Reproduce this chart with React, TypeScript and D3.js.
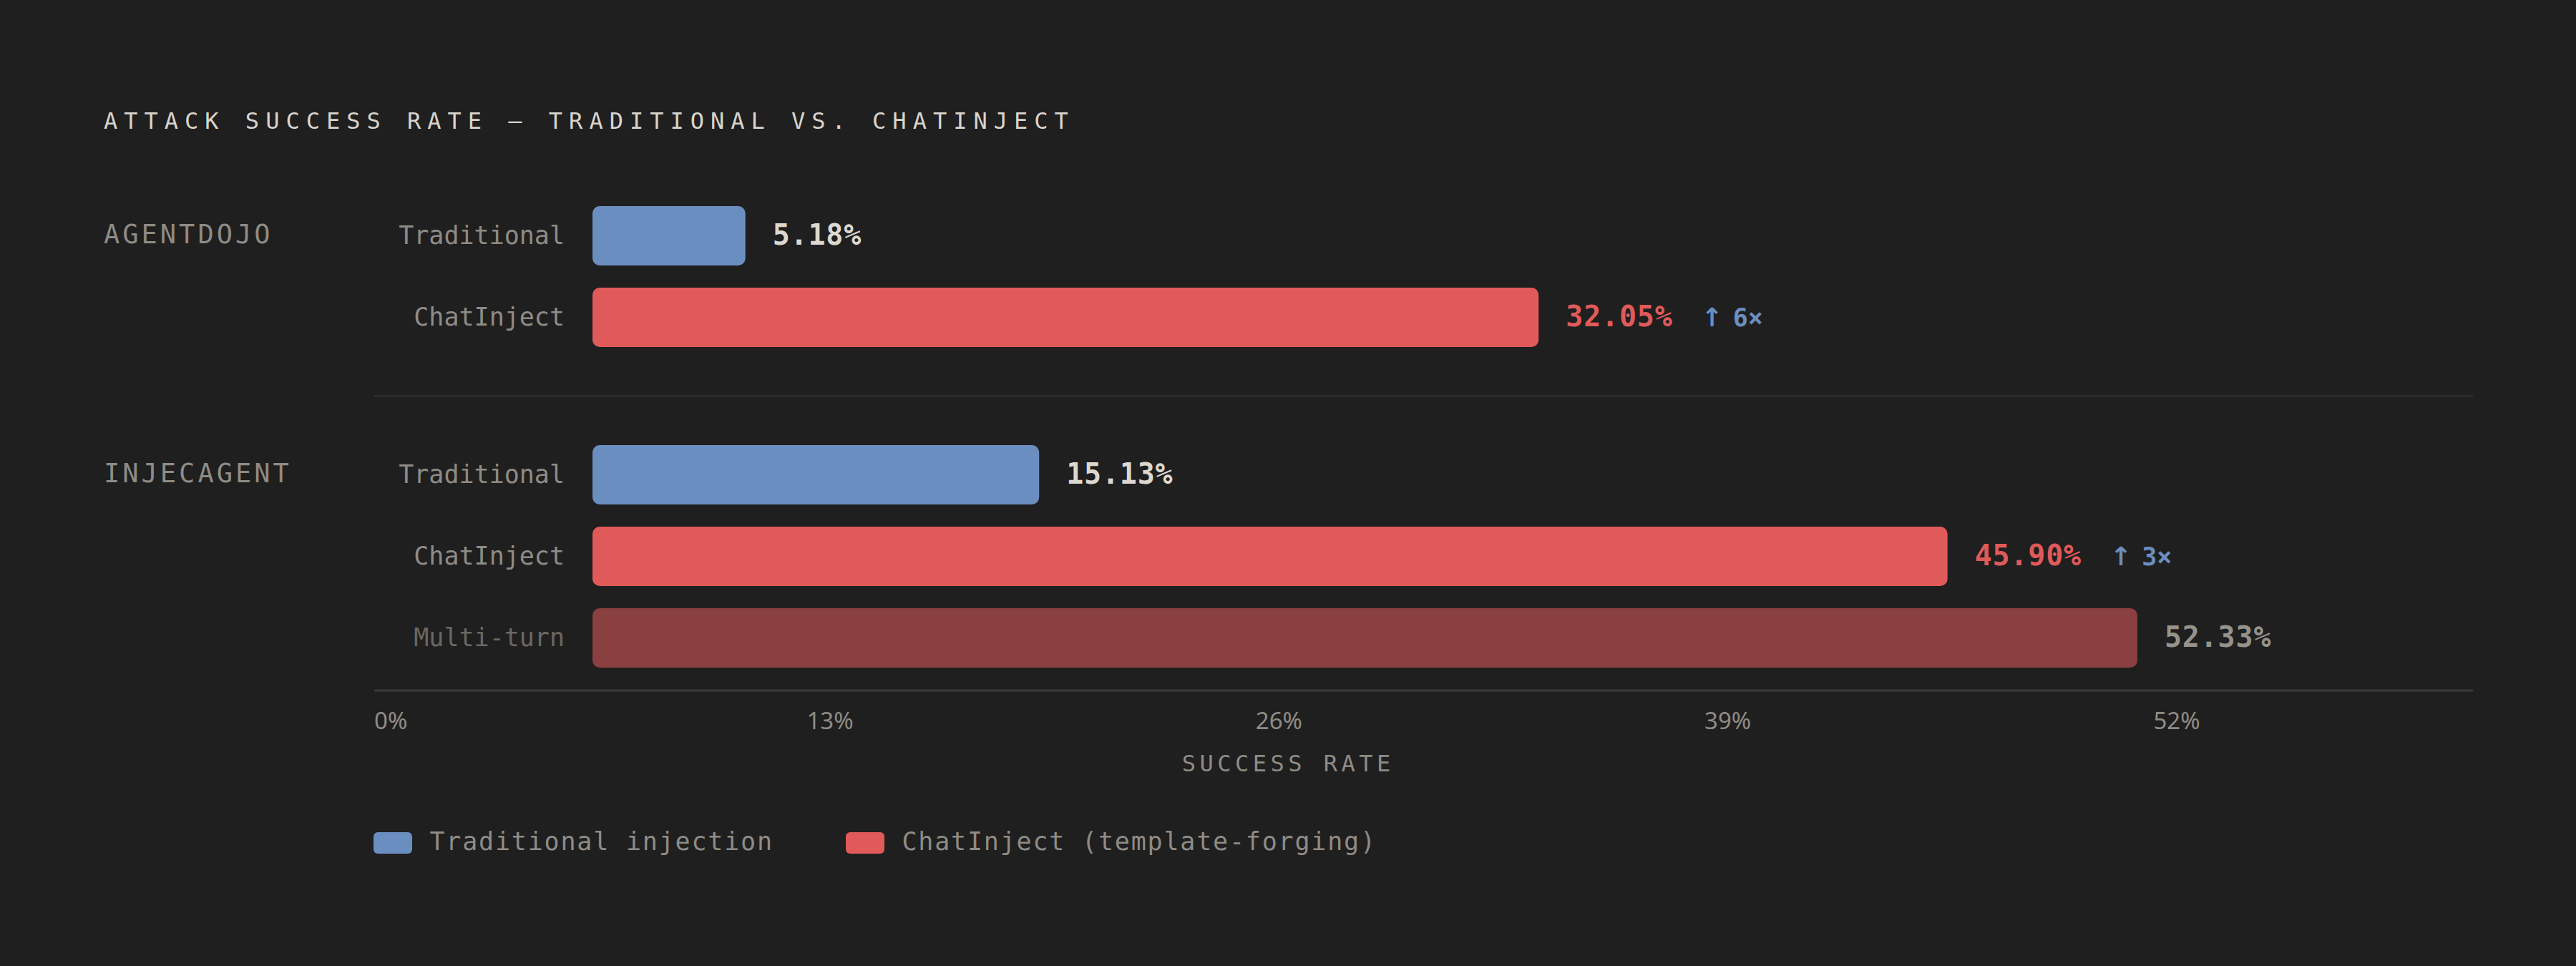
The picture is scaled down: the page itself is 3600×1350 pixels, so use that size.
import React from "react";
import * as d3 from "d3";

// ---------- data ----------
const title = "ATTACK SUCCESS RATE — TRADITIONAL VS. CHATINJECT";
const benchmarks = ["AGENTDOJO", "INJECAGENT"];
const methodLabels = [
  ["Traditional", "ChatInject"],
  ["Traditional", "ChatInject", "Multi-turn"],
];
const methodKinds = [
  ["trad", "chat"],
  ["trad", "chat", "multi"],
];
const successRates = [
  [5.18, 32.05],
  [15.13, 45.9, 52.33],
];
const liftLabels = [
  ["", "6×"],
  ["", "3×", ""],
];
const tickValues = [0, 13, 26, 39, 52];
const axisTitle = "SUCCESS RATE";
const legendLabels = ["Traditional injection", "ChatInject (template-forging)"];
const legendKinds = ["trad", "chat"];

// ---------- style ----------
const W = 3600;
const H = 1350;
const BG = "#1f1f1f";
const MONO = "'DejaVu Sans Mono', 'Liberation Mono', monospace";
const SANS = "'Noto Sans', 'Open Sans', sans-serif";
const barFill: Record<string, string> = {
  trad: "#6b8ec0",
  chat: "#e05a5a",
  multi: "#8a3f40",
};
const valueFill: Record<string, string> = {
  trad: "#dcd8d0",
  chat: "#e05a5a",
  multi: "#96928c",
};
const labelFill: Record<string, string> = {
  trad: "#8f8b85",
  chat: "#8f8b85",
  multi: "#6a6762",
};

// ---------- layout ----------
const left = 145;
const axisLeft = 523;
const axisRight = 3456;
const barLeft = 828;
const rowStep = 114;
const barH = 83;
const groupGap = 106;
const firstTop = 288;

const x = d3.scaleLinear().domain([0, 63.65]).range([barLeft, 3454]);
const tickX = d3.scaleLinear().domain([0, 52]).range([532.7, 3042]);

export default function App() {
  const groupTops: number[] = [];
  let t = firstTop;
  successRates.forEach((g) => {
    groupTops.push(t);
    t += g.length * rowStep + groupGap;
  });
  const lastGroup = successRates.length - 1;
  const lastBottom =
    groupTops[lastGroup] + (successRates[lastGroup].length - 1) * rowStep + barH;
  const axisY = lastBottom + 32;

  return (
    <svg
      width={W}
      height={H}
      style={{ position: "absolute", left: 0, top: 0, display: "block" }}
    >
      <rect x={0} y={0} width={W} height={H} fill={BG} />
      <text
        x={left}
        y={180}
        fontFamily={MONO}
        fontSize={32}
        letterSpacing={9}
        fill="#d8d4cc"
      >
        {title}
      </text>

      {successRates.map((vals, gi) => {
        const gTop = groupTops[gi];
        const sepY =
          gi < lastGroup
            ? (gTop + (vals.length - 1) * rowStep + barH + groupTops[gi + 1]) / 2
            : 0;
        return (
          <g key={gi}>
            <text
              x={left}
              y={gTop + barH / 2 + 10.7}
              fontFamily={MONO}
              fontSize={37}
              letterSpacing={4}
              fill="#8f8b85"
            >
              {benchmarks[gi]}
            </text>
            {vals.map((v, ri) => {
              const top = gTop + ri * rowStep;
              const cy = top + barH / 2;
              const kind = methodKinds[gi][ri];
              const lift = liftLabels[gi][ri];
              return (
                <g key={ri}>
                  <text
                    x={789}
                    y={cy + 11}
                    textAnchor="end"
                    fontFamily={MONO}
                    fontSize={35}
                    fill={labelFill[kind]}
                  >
                    {methodLabels[gi][ri]}
                  </text>
                  <rect
                    x={x(0)}
                    y={top}
                    width={x(v) - x(0)}
                    height={barH}
                    rx={10}
                    ry={10}
                    fill={barFill[kind]}
                  />
                  <text
                    x={x(v) + 38}
                    y={cy + 12.7}
                    fontFamily={MONO}
                    fontWeight="bold"
                    fontSize={40}
                    letterSpacing={0.8}
                    fill={valueFill[kind]}
                  >
                    {v.toFixed(2) + "%"}
                    {lift ? (
                      <tspan
                        dx={40}
                        fontFamily="'DejaVu Sans', sans-serif"
                        fontSize={36}
                        letterSpacing={0}
                        fill="#6b8ec0"
                      >
                        {"↑"}
                      </tspan>
                    ) : null}
                    {lift ? (
                      <tspan
                        dx={14}
                        fontSize={35}
                        letterSpacing={0}
                        fill="#6b8ec0"
                      >
                        {lift}
                      </tspan>
                    ) : null}
                  </text>
                </g>
              );
            })}
            {gi < lastGroup ? (
              <line
                x1={axisLeft}
                x2={axisRight}
                y1={sepY}
                y2={sepY}
                stroke="#2f2f2f"
                strokeWidth={2.5}
              />
            ) : null}
          </g>
        );
      })}

      <line
        x1={axisLeft}
        x2={axisRight}
        y1={axisY}
        y2={axisY}
        stroke="#3a3a3a"
        strokeWidth={3}
      />
      {tickValues.map((tv, i) => (
        <text
          key={tv}
          x={i === 0 ? axisLeft : tickX(tv)}
          y={1019}
          textAnchor={i === 0 ? "start" : "middle"}
          fontFamily={SANS}
          fontSize={33}
          fill="#8f8b85"
        >
          {tv + "%"}
        </text>
      ))}
      <text
        x={(axisLeft + tickX(52) + 30) / 2 + 2.75}
        y={1078}
        textAnchor="middle"
        fontFamily={MONO}
        fontSize={32}
        letterSpacing={5.5}
        fill="#8f8b85"
      >
        {axisTitle}
      </text>

      {legendLabels.map((lab, i) => {
        const lx = [522, 1182][i];
        return (
          <g key={lab}>
            <rect
              x={lx}
              y={1163}
              width={54}
              height={30}
              rx={6}
              ry={6}
              fill={barFill[legendKinds[i]]}
            />
            <text
              x={lx + 78.5}
              y={1188}
              fontFamily={MONO}
              fontSize={35}
              letterSpacing={1.8}
              fill="#8f8b85"
            >
              {lab}
            </text>
          </g>
        );
      })}
    </svg>
  );
}
